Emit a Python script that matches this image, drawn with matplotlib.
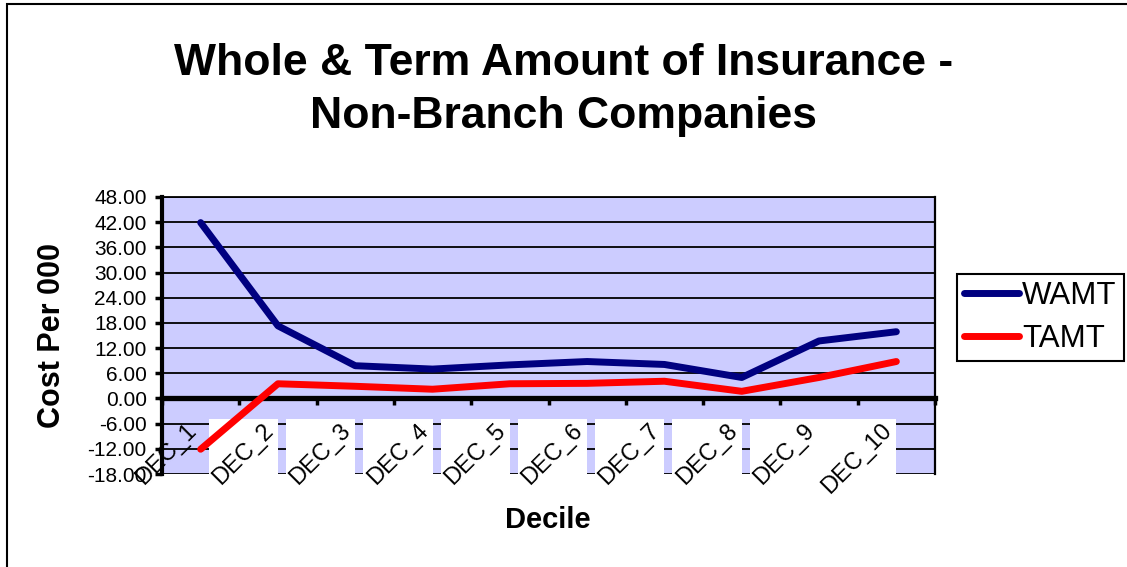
import numpy as np
import matplotlib
matplotlib.use("Agg")
import matplotlib.pyplot as plt
from matplotlib.patches import Rectangle
from matplotlib.transforms import IdentityTransform
from matplotlib.ticker import FormatStrFormatter

plt.rcParams['font.family'] = ['Liberation Sans', 'DejaVu Sans']
plt.rcParams['axes.unicode_minus'] = False

# data
deciles = ['DEC_1', 'DEC_2', 'DEC_3', 'DEC_4', 'DEC_5',
           'DEC_6', 'DEC_7', 'DEC_8', 'DEC_9', 'DEC_10']
wamt = [41.9, 17.3, 7.8, 7.0, 8.0, 8.8, 8.1, 5.0, 13.7, 15.9]
tamt = [-12.1, 3.5, 2.9, 2.2, 3.5, 3.6, 4.1, 1.7, 5.0, 8.8]
yticks = [-18, -12, -6, 0, 6, 12, 18, 24, 30, 36, 42, 48]

W, H = 1127, 567
fig = plt.figure(figsize=(W / 100, H / 100), dpi=100)
fig.patch.set_facecolor('white')

# outer chart border (runs off the right/bottom of the image)
fig.patches.append(Rectangle((7 / W, -0.1), 1.2, 1 - 4 / H + 0.1,
                             transform=fig.transFigure, fill=False,
                             edgecolor='black', linewidth=1.5))

ax = fig.add_axes([162 / W, 93 / H, 773 / W, 277 / H])
ax.set_facecolor('#CCCCFF')

x = np.arange(1, len(deciles) + 1)
ax.plot(x, wamt, color='#000080', linewidth=5, label='WAMT',
        solid_capstyle='round', zorder=3)
ax.plot(x, tamt, color='#FF0000', linewidth=5, label='TAMT',
        solid_capstyle='round', zorder=3)

ax.set_xlim(0.5, len(deciles) + 0.5)
ax.set_ylim(yticks[0], yticks[-1])

# y axis
ax.set_yticks(yticks)
ax.yaxis.set_major_formatter(FormatStrFormatter('%.2f'))
ax.tick_params(axis='y', direction='out', length=5, width=2.5,
               labelsize=15, pad=6, color='black')
ax.grid(axis='y', color='black', linewidth=1.3)
ax.grid(axis='x', visible=False)

# category axis sits on zero
ax.spines['bottom'].set_position(('data', 0))
ax.spines['bottom'].set_linewidth(3.8)
ax.spines['left'].set_linewidth(3.0)
ax.spines['top'].set_linewidth(1.3)
ax.spines['right'].set_linewidth(1.6)

ax.set_xticks(np.arange(0.5, len(deciles) + 1, 1.0))
ax.set_xticklabels([])
ax.tick_params(axis='x', which='major', direction='out', length=5, width=2.5)
ax.set_xticks(x, minor=True)
ax.set_xticklabels(deciles, minor=True, rotation=45, ha='right', va='top',
                   fontsize=17)
ax.tick_params(axis='x', which='minor', length=0, pad=15)

ax.set_axisbelow(True)
ax.yaxis.set_zorder(0.4)
ax.xaxis.set_zorder(1.5)

fig.text(0.5, 1 - 90 / H, 'Whole & Term Amount of Insurance -\nNon-Branch Companies',
         ha='center', va='center', fontsize=32, fontweight='bold', linespacing=1.38)
fig.text(52 / W, 1 - 336 / H, 'Cost Per 000', rotation=90, ha='center',
         va='center', fontsize=22, fontweight='bold')
fig.text(548 / W, 1 - 520 / H, 'Decile', ha='center', va='center',
         fontsize=21, fontweight='bold')

leg = fig.legend(loc='upper left', bbox_to_anchor=(957 / W, 1 - 274 / H),
                 fontsize=22.5, frameon=True, fancybox=False, framealpha=1,
                 edgecolor='black', handlelength=1.75, handletextpad=0.12,
                 labelspacing=0.42, borderpad=0.22, borderaxespad=0)
leg.get_frame().set_linewidth(1.5)

# white, axis-aligned boxes behind the category labels (not the first one)
fig.canvas.draw()
renderer = fig.canvas.get_renderer()
for i, lab in enumerate(ax.xaxis.get_minorticklabels()):
    if i == 0:
        continue
    bb = lab.get_window_extent(renderer)
    ax.add_patch(Rectangle((bb.x0, bb.y0), bb.width, bb.height,
                           transform=IdentityTransform(), facecolor='white',
                           edgecolor='none', clip_on=False, zorder=1.4))

fig.savefig('out.png', dpi=100)
